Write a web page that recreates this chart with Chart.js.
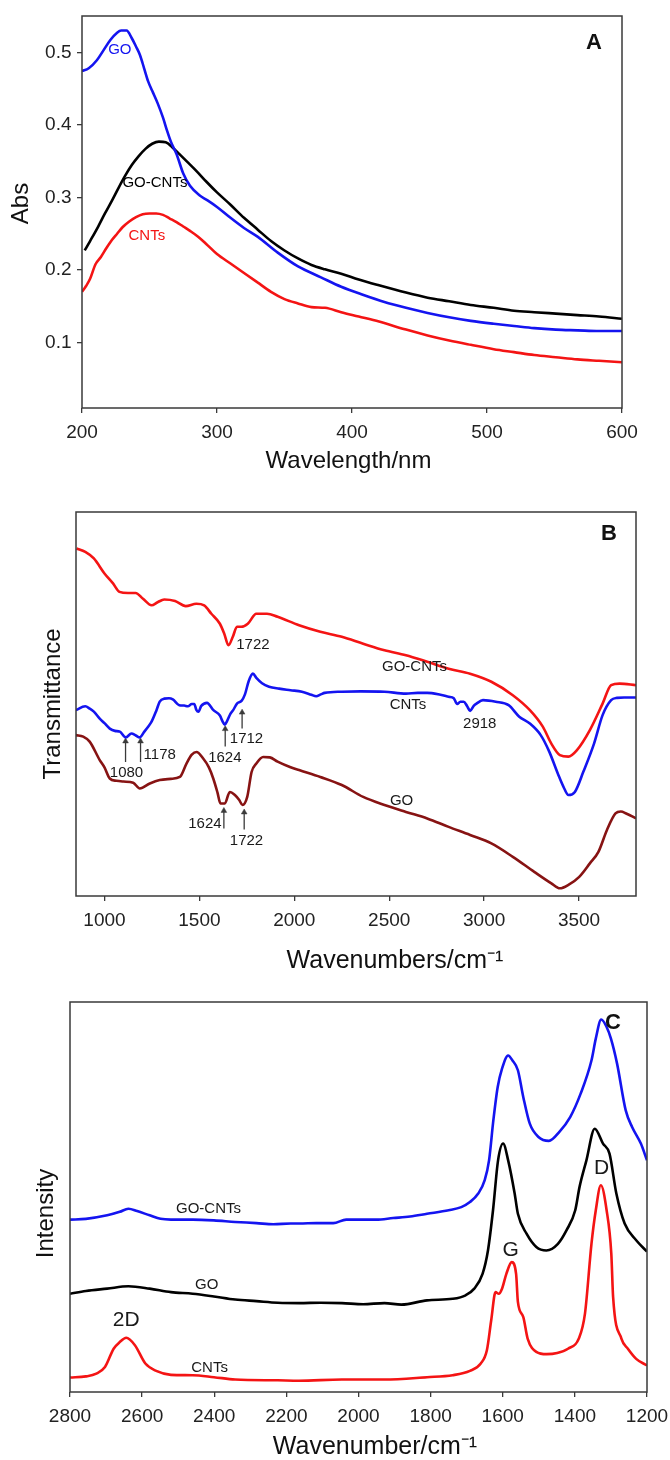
<!DOCTYPE html>
<html>
<head>
<meta charset="utf-8">
<script src="https://cdn.jsdelivr.net/npm/chart.js@4.4.1/dist/chart.umd.min.js"></script>
<style>
  html, body { margin: 0; padding: 0; background: #fff; }
  body { width: 670px; height: 1460px; overflow: hidden; position: relative; }
  canvas { position: absolute; left: 0; }
</style>
</head>
<body>
<canvas id="cA" width="670" height="480" style="top:0px"></canvas>
<canvas id="cB" width="670" height="500" style="top:480px"></canvas>
<canvas id="cC" width="670" height="480" style="top:980px"></canvas>
<script>
// ================= Panel A : UV-vis =================
const xA_GO = [200,205,211,216,221,226,229,233,237,240,243,246,249,252,256,260,263,266,270,275,280,287,293,300,310,320,330,345,360,377,392,408,424,440,456,472,488,505,520,535,551,567,583,600];
const yA_GO = [0.474,0.478,0.489,0.503,0.517,0.527,0.530,0.530,0.519,0.508,0.496,0.478,0.460,0.447,0.430,0.410,0.392,0.376,0.360,0.333,0.316,0.303,0.296,0.287,0.272,0.258,0.246,0.224,0.205,0.190,0.177,0.166,0.156,0.148,0.141,0.135,0.130,0.126,0.123,0.120,0.118,0.117,0.116,0.116];
const xA_GOCNT = [202,206,212,217,222,227,232,237,242,247,252,257,262,267,272,278,285,292,300,310,320,330,340,350,360,370,380,392,405,420,440,456,472,488,505,520,535,551,567,583,600];
const yA_GOCNT = [0.227,0.240,0.260,0.278,0.295,0.313,0.330,0.345,0.357,0.367,0.374,0.377,0.376,0.369,0.360,0.349,0.336,0.322,0.307,0.290,0.272,0.256,0.240,0.227,0.216,0.207,0.201,0.195,0.187,0.179,0.169,0.162,0.157,0.152,0.148,0.144,0.142,0.140,0.138,0.136,0.133];
const xA_CNT = [200,203,206,210,214,218,222,226,230,235,240,245,250,255,260,265,270,275,280,286,292,300,310,320,330,340,350,360,370,380,392,405,420,440,456,472,488,505,520,535,551,567,583,600];
const yA_CNT = [0.170,0.178,0.188,0.208,0.218,0.230,0.241,0.250,0.259,0.267,0.273,0.277,0.278,0.278,0.276,0.271,0.266,0.260,0.254,0.246,0.236,0.222,0.209,0.196,0.183,0.170,0.160,0.154,0.149,0.148,0.142,0.136,0.129,0.118,0.110,0.103,0.097,0.091,0.087,0.083,0.080,0.077,0.075,0.073];
const ticksA_x = [200,300,400,500,600];
const ticksA_y = [0.1,0.2,0.3,0.4,0.5];
const tickLabelsA_y = ['0.1','0.2','0.3','0.4','0.5'];
const notesA_text = ['GO','GO-CNTs','CNTs'];
const notesA_x = [228,254,248];
const notesA_y = [0.504,0.320,0.247];

// ================= Panel B : FTIR =================
const xB_GOCNT = [853,899,944,1000,1045,1079,1124,1164,1203,1248,1280,1315,1372,1428,1484,1525,1563,1608,1631,1653,1676,1698,1721,1755,1800,1856,1912,2025,2137,2250,2363,2475,2588,2700,2813,2926,3038,3151,3241,3309,3354,3399,3444,3489,3557,3624,3669,3714,3800];
const yB_GOCNT = [90.5,89.6,87.9,84.0,81.4,79.2,78.9,78.9,77.4,75.7,76.5,77.2,76.8,75.5,76.1,75.7,73.5,70.9,68.3,65.3,67.5,70.1,70.1,70.9,73.5,73.5,72.7,70.5,68.8,67.5,65.7,64.0,62.7,61.0,59.2,57.9,55.8,52.3,48.4,44.1,39.7,36.7,36.3,38.0,43.2,50.1,54.9,55.3,54.9];
const xB_CNT = [849,899,922,944,975,1000,1028,1055,1081,1112,1142,1165,1186,1210,1230,1248,1274,1291,1315,1340,1360,1394,1420,1439,1460,1473,1484,1495,1510,1540,1574,1608,1622,1634,1645,1664,1678,1698,1722,1740,1760,1782,1800,1830,1867,1920,1980,2040,2090,2115,2140,2160,2250,2350,2475,2588,2650,2700,2770,2813,2840,2858,2875,2892,2910,2926,2945,2960,2994,3061,3129,3185,3241,3298,3343,3388,3422,3444,3478,3523,3579,3624,3669,3700,3737,3800];
const yB_CNT = [48.4,49.4,48.8,48.0,46.2,45.0,43.6,43.0,42.8,41.3,42.3,41.8,41.3,42.8,44.1,45.4,48.4,50.6,51.4,51.5,51.2,49.7,49.6,49.4,50.0,50.0,48.5,48.0,49.5,50.3,48.4,47.0,45.5,44.6,45.5,47.5,48.4,50.1,50.8,52.5,56.0,57.9,56.8,55.4,54.5,54.0,53.6,53.2,52.4,52.0,52.5,52.9,53.2,53.3,53.2,52.7,52.9,52.9,52.4,51.9,51.5,50.0,50.6,50.6,49.5,48.2,49.5,50.1,51.0,50.6,49.7,46.7,44.9,41.9,37.6,31.9,28.0,26.3,27.1,32.4,39.7,47.1,51.0,51.6,51.7,51.7];
const xB_GO = [849,888,922,975,1000,1028,1063,1100,1151,1186,1239,1291,1349,1397,1432,1460,1485,1520,1550,1573,1595,1611,1634,1660,1687,1710,1727,1752,1775,1800,1836,1871,1912,1977,2025,2137,2250,2363,2475,2588,2700,2813,2926,3038,3151,3264,3354,3399,3444,3501,3557,3602,3647,3692,3720,3748,3800];
const yB_GO = [41.9,41.5,40.2,35.4,33.5,30.6,30.0,29.8,29.5,28.0,29.3,30.2,30.5,31.0,34.5,36.8,37.5,35.8,33.5,30.6,27.0,24.1,24.1,27.1,26.3,25.0,23.7,25.8,32.3,34.5,36.2,36.1,35.0,33.6,32.8,31.0,28.9,25.8,23.7,21.9,20.2,18.0,15.9,13.7,10.2,6.3,3.3,2.0,2.9,5.0,8.5,11.5,17.2,21.5,22.0,21.5,20.2];
const ticksB_x = [1000,1500,2000,2500,3000,3500];
const notesB_text = ['1722','GO-CNTs','CNTs','2918','1712','1178','1624','1080','GO','1624','1722'];
const notesB_x = [1782,2633,2599,2977,1748,1291,1634,1116,2565,1529,1748];
const notesB_y = [65.5,59.7,49.7,44.8,40.9,36.7,36.1,32.1,24.7,18.7,14.4];
const arrowsB_x = [1111,1190,1636,1725,1629,1736];
const arrowsB_from = [34.9,34.9,38.9,43.6,17.6,17.3];
const arrowsB_to = [40.3,40.3,43.5,47.8,22.2,21.8];

// ================= Panel C : Raman =================
const xC_GOCNT = [2800,2756,2697,2662,2638,2614,2579,2549,2520,2460,2401,2342,2283,2236,2188,2164,2117,2070,2034,1987,1951,1904,1857,1810,1750,1715,1691,1668,1650,1638,1626,1614,1602,1585,1573,1558,1543,1525,1501,1472,1443,1413,1384,1354,1342,1327,1312,1300,1283,1259,1241,1217,1200];
const yC_GOCNT = [44.2,44.4,45.3,46.2,47.0,46.4,45.3,44.4,44.2,44.2,44.0,43.6,43.3,43.0,43.2,43.2,43.3,43.3,44.2,44.2,44.2,44.6,45.0,45.7,46.6,47.4,48.7,50.9,54.3,59.4,69.7,78.2,82.9,86.3,85.0,82.5,75.6,68.8,65.4,64.4,66.7,70.5,76.5,85.0,90.6,95.5,93.6,90.6,84.2,72.2,67.9,63.7,59.4];
const xC_GO = [2800,2756,2697,2638,2579,2520,2460,2401,2342,2283,2224,2164,2105,2046,1987,1928,1881,1810,1739,1703,1679,1656,1641,1627,1613,1599,1585,1567,1558,1534,1507,1479,1447,1423,1399,1387,1368,1345,1322,1304,1285,1262,1230,1200];
const yC_GO = [25.2,25.9,26.5,27.1,26.5,25.6,25.2,24.5,23.7,23.3,22.9,22.8,22.9,22.8,22.5,22.8,22.4,23.5,23.9,24.8,26.5,30.3,36.3,46.6,59.4,63.7,59.4,50.9,45.7,40.6,37.2,36.3,38.0,41.5,46.6,52.6,59.4,67.5,63.7,61.1,50.9,43.2,38.9,36.0];
const xC_CNT = [2800,2756,2727,2703,2679,2662,2644,2620,2591,2561,2520,2460,2401,2342,2224,2165,2046,1928,1810,1739,1691,1661,1644,1632,1620,1611,1602,1590,1575,1563,1558,1543,1531,1507,1478,1449,1419,1389,1372,1354,1342,1328,1312,1299,1294,1271,1253,1230,1200];
const yC_CNT = [3.7,4.0,4.7,6.4,11.1,12.8,13.9,12.0,7.3,5.4,4.4,4.3,3.8,3.2,3.0,2.9,3.2,3.2,3.8,4.3,5.4,7.3,10.7,18.4,25.6,25.2,26.5,30.3,33.3,30.3,23.1,19.2,13.7,10.3,9.7,10.0,11.1,13.7,20.1,38.0,46.6,53.0,46.6,35.5,24.4,13.7,11.1,8.5,6.8];
const ticksC_x = [2800,2600,2400,2200,2000,1800,1600,1400,1200];
const notesC_text = ['GO-CNTs','GO','CNTs'];
const notesC_x = [2416,2421,2413];
const notesC_y = [47.0,27.6,6.2];
const bandsC_text = ['2D','G','D'];
const bandsC_x = [2644,1578,1326];
const bandsC_y = [18.5,36.3,57.3];

// ================= Styling / helpers =================
const FONT = "'Liberation Sans', Arial, Helvetica, sans-serif";
Chart.defaults.font.family = FONT;
Chart.defaults.color = '#222';
const BLUE = '#1414f0', RED = '#f41414', BLACK = '#000000', BROWN = '#871313', AXIS = '#3a3a3a';

function pts(xs, ys) { return xs.map((x, i) => ({ x: x, y: ys[i] })); }
function lineDs(xs, ys, color) {
  return { type: 'line', data: pts(xs, ys), borderColor: color, backgroundColor: color,
           borderWidth: 2.6, pointRadius: 0, cubicInterpolationMode: 'monotone', fill: false };
}
function arrowDs(x, y0, y1) {
  return { type: 'line', data: [{ x: x, y: y0 }, { x: x, y: y1 }], borderColor: AXIS, backgroundColor: AXIS,
           borderWidth: 1.3, pointRadius: [0, 3.3], pointStyle: 'triangle', pointBorderWidth: 0.5,
           pointBackgroundColor: AXIS, pointBorderColor: AXIS, tension: 0, clip: false };
}

const boxPlugin = {
  id: 'box',
  afterDatasetsDraw(chart) {
    const a = chart.chartArea, ctx = chart.ctx;
    ctx.save();
    ctx.strokeStyle = AXIS; ctx.lineWidth = 1.5;
    ctx.strokeRect(a.left, a.top, a.right - a.left, a.bottom - a.top);
    ctx.restore();
  }
};
// annotations (in data coordinates) + axis titles (placed relative to the plot area)
const notesPlugin = {
  id: 'notes',
  afterDraw(chart, args, opts) {
    const ctx = chart.ctx, xs = chart.scales.x, ys = chart.scales.y, a = chart.chartArea;
    const cx = (a.left + a.right) / 2, cy = (a.top + a.bottom) / 2;
    ctx.save();
    ctx.textAlign = 'center'; ctx.textBaseline = 'middle';
    (opts.groups || []).forEach(g => {
      ctx.font = g.font;
      g.text.forEach((t, i) => {
        ctx.fillStyle = Array.isArray(g.color) ? g.color[i] : g.color;
        ctx.fillText(t, xs.getPixelForValue(g.x[i]), ys.getPixelForValue(g.y[i]));
      });
    });
    if (opts.panel) {
      ctx.font = 'bold 22px ' + FONT; ctx.fillStyle = '#111';
      ctx.fillText(opts.panel.text, a.right - opts.panel.dx, a.top + opts.panel.dy);
    }
    ctx.fillStyle = '#111';
    if (opts.xTitle) {
      ctx.font = opts.xTitle.size + 'px ' + FONT;
      ctx.fillText(opts.xTitle.text, cx + opts.xTitle.dx, a.bottom + opts.xTitle.dy);
    }
    if (opts.yTitle) {
      ctx.font = opts.yTitle.size + 'px ' + FONT;
      ctx.translate(a.left - opts.yTitle.dx, cy + opts.yTitle.dy);
      ctx.rotate(-Math.PI / 2);
      ctx.fillText(opts.yTitle.text, 0, 0);
    }
    ctx.restore();
  }
};

function xAxis(min, max, ticks, height, reverse) {
  return {
    type: 'linear', position: 'bottom', min: min, max: max, reverse: !!reverse,
    afterBuildTicks: s => { s.ticks = ticks.map(v => ({ value: v })); },
    afterFit: s => { s.height = height; s.paddingLeft = 0; s.paddingRight = 0; },
    ticks: { font: { size: 19 }, color: '#222', padding: 8.5, maxRotation: 0, autoSkip: false,
             callback: (v) => String(v) },
    grid: { display: true, drawOnChartArea: false, drawTicks: true, tickLength: 5, color: AXIS, lineWidth: 1.3 },
    border: { display: false },
    title: { display: false }
  };
}
function hiddenY(width) {
  return {
    type: 'linear', min: 0, max: 100,
    afterFit: s => { s.width = width; s.paddingTop = 0; s.paddingBottom = 0; },
    ticks: { display: false }, grid: { display: false }, border: { display: false }, title: { display: false }
  };
}

// ---------- Chart A ----------
new Chart(document.getElementById('cA'), {
  type: 'line',
  data: { datasets: [ lineDs(xA_GO, yA_GO, BLUE), lineDs(xA_GOCNT, yA_GOCNT, BLACK), lineDs(xA_CNT, yA_CNT, RED) ] },
  options: {
    responsive: false, animation: false, devicePixelRatio: 1,
    layout: { padding: { left: 0, right: 48, top: 16, bottom: 0 } },
    plugins: { legend: { display: false }, tooltip: { enabled: false },
      notes: { groups: [ { text: notesA_text, x: notesA_x, y: notesA_y, font: '15px ' + FONT, color: [BLUE, BLACK, RED] } ],
               panel: { text: 'A', dx: 28, dy: 27 },
               xTitle: { text: 'Wavelength/nm', size: 24, dx: -3.5, dy: 53.5 },
               yTitle: { text: 'Abs', size: 24, dx: 61, dy: -8.5 } } },
    scales: {
      x: xAxis(200, 600, ticksA_x, 72, false),
      y: {
        type: 'linear', min: 0.01, max: 0.55,
        afterBuildTicks: s => { s.ticks = ticksA_y.map(v => ({ value: v })); },
        afterFit: s => { s.width = 82; s.paddingTop = 0; s.paddingBottom = 0; },
        ticks: { font: { size: 19 }, color: '#222', padding: 5.5, callback: (v, i) => tickLabelsA_y[i] },
        grid: { display: true, drawOnChartArea: false, drawTicks: true, tickLength: 5, color: AXIS, lineWidth: 1.3 },
        border: { display: false },
        title: { display: false }
      }
    }
  },
  plugins: [boxPlugin, notesPlugin]
});

// ---------- Chart B ----------
const dsB = [ lineDs(xB_GOCNT, yB_GOCNT, RED), lineDs(xB_CNT, yB_CNT, BLUE), lineDs(xB_GO, yB_GO, BROWN) ];
arrowsB_x.forEach((x, i) => dsB.push(arrowDs(x, arrowsB_from[i], arrowsB_to[i])));
new Chart(document.getElementById('cB'), {
  type: 'line',
  data: { datasets: dsB },
  options: {
    responsive: false, animation: false, devicePixelRatio: 1,
    layout: { padding: { left: 0, right: 34, top: 32, bottom: 0 } },
    plugins: { legend: { display: false }, tooltip: { enabled: false },
      notes: { groups: [ { text: notesB_text, x: notesB_x, y: notesB_y, font: '15px ' + FONT, color: '#1a1a1a' } ],
               panel: { text: 'B', dx: 27, dy: 22 },
               xTitle: { text: 'Wavenumbers/cm\u207B\u00B9', size: 25, dx: 39, dy: 65 },
               yTitle: { text: 'Transmittance', size: 24, dx: 23, dy: 0 } } },
    scales: {
      x: xAxis(850, 3800, ticksB_x, 84, false),
      y: hiddenY(76)
    }
  },
  plugins: [boxPlugin, notesPlugin]
});

// ---------- Chart C ----------
new Chart(document.getElementById('cC'), {
  type: 'line',
  data: { datasets: [ lineDs(xC_GOCNT, yC_GOCNT, BLUE), lineDs(xC_GO, yC_GO, BLACK), lineDs(xC_CNT, yC_CNT, RED) ] },
  options: {
    responsive: false, animation: false, devicePixelRatio: 1,
    layout: { padding: { left: 0, right: 23, top: 22, bottom: 0 } },
    plugins: { legend: { display: false }, tooltip: { enabled: false },
      notes: { groups: [
                 { text: notesC_text, x: notesC_x, y: notesC_y, font: '15px ' + FONT, color: '#1a1a1a' },
                 { text: bandsC_text, x: bandsC_x, y: bandsC_y, font: '21px ' + FONT, color: '#1a1a1a' } ],
               panel: { text: 'C', dx: 34, dy: 21 },
               xTitle: { text: 'Wavenumber/cm\u207B\u00B9', size: 25, dx: 16.5, dy: 55 },
               yTitle: { text: 'Intensity', size: 24, dx: 23.5, dy: 16.5 } } },
    scales: {
      x: xAxis(1200, 2800, ticksC_x, 68, true),
      y: hiddenY(70)
    }
  },
  plugins: [boxPlugin, notesPlugin]
});
</script>
</body>
</html>
